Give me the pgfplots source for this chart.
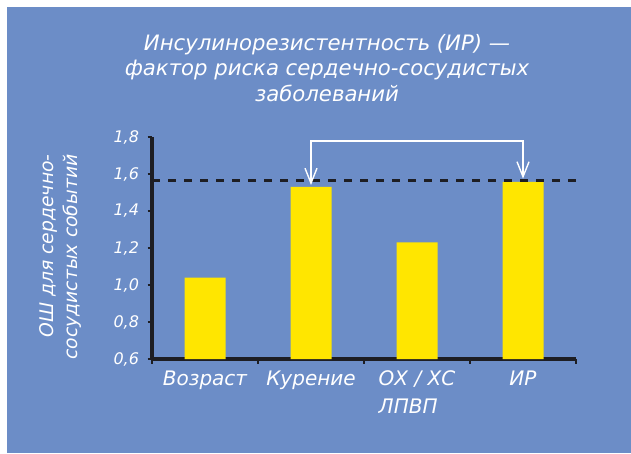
\documentclass[border=0pt]{standalone}
\usepackage{fontspec}
\setmainfont{DejaVu Sans}
\usepackage{pgfplots}
\pgfplotsset{compat=1.18}
\usetikzlibrary{arrows.meta}
\definecolor{bg}{RGB}{108,141,199}
\definecolor{baryel}{RGB}{255,230,0}
\definecolor{axdark}{RGB}{30,30,35}
\begin{document}
\begin{tikzpicture}[x=1pt,y=1pt]
\fill[white] (0,0) rectangle (631,453);
\fill[bg] (7,0) rectangle (631,446);
\node[text=white, align=center, font=\itshape\fontsize{21.2}{25.5}\selectfont] at (327,385)
 {Инсулинорезистентность (ИР) —\\фактор риска сердечно-сосудистых\\заболеваний};
\node[text=white, rotate=90, align=right, font=\itshape\fontsize{18.8}{24}\selectfont] at (60,196)
 {ОШ для сердечно-\\сосудистых событий};
\begin{axis}[
  at={(152pt,94pt)}, anchor=south west,
  scale only axis, width=424pt, height=222pt,
  xmin=-0.5, xmax=3.5, ymin=0.6, ymax=1.8,
  axis lines*=left,
  axis line style={axdark, line width=3.3pt},
  every tick/.style={axdark, line width=2.6pt},
  tick align=outside,
  major tick length=4.5pt,
  xtick={-0.5,0.5,1.5,2.5,3.5},
  xticklabels={},
  extra x ticks={0,1,2,3},
  extra x tick labels={Возраст,Курение,ОХ / ХС\\ЛПВП,ИР},
  extra x tick style={major tick length=0pt, xticklabel style={text=white, font=\itshape\fontsize{20}{28}\selectfont, align=left, anchor=north, yshift=-8pt}},
  ytick={0.6,0.8,...,1.8},
  yticklabel style={text=white, font=\itshape\fontsize{16}{18}\selectfont, xshift=-5pt},
  /pgf/number format/.cd, use comma, fixed, fixed zerofill, precision=1, assume math mode=true,
  /pgfplots/.cd,
  ybar, bar width=41pt,
]
\addplot[fill=baryel, draw=none] coordinates {(0,1.04) (1,1.53) (2,1.23) (3,1.557)};
\addplot[ybar=false, sharp plot, axdark, line width=3pt, dash pattern=on 8pt off 8pt] coordinates {(-0.5,1.567) (3.5,1.567)};
\addplot[ybar=false, sharp plot, white, line width=1.4pt, {Straight Barb[length=15pt,width=12pt,line width=1.4pt]}-{Straight Barb[length=15pt,width=12pt,line width=1.4pt]}] coordinates {(1,1.54) (1,1.778) (3,1.778) (3,1.575)};
\end{axis}
\end{tikzpicture}
\end{document}
